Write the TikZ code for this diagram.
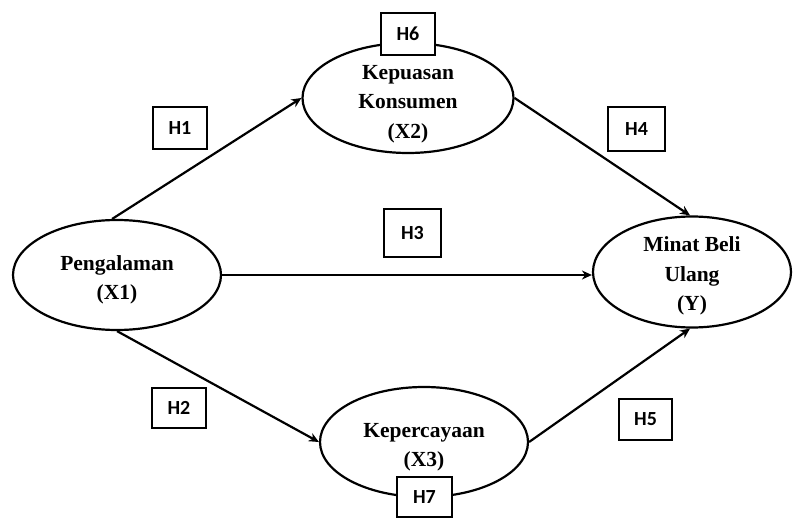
\documentclass[tikz,border=0pt]{standalone}
\usepackage{fontspec}
\setmainfont{Liberation Serif}
\newfontfamily\boxfont{Carlito}
\usetikzlibrary{shapes.geometric,arrows.meta}
\tikzset{
  var/.style={ellipse, draw, line width=2.2pt, fill=white, inner sep=0pt},
  vartext/.style={align=center, inner sep=0pt,
    font=\fontsize{21.5}{29.5}\selectfont\bfseries},
  hyp/.style={rectangle, draw, line width=2.2pt, fill=white, inner sep=0pt,
    font=\boxfont\fontsize{20}{22}\selectfont\bfseries},
  path/.style={line width=2.2pt, -{Stealth[length=10pt,width=9pt]}}
}
\begin{document}
\begin{tikzpicture}[x=1pt,y=-1pt]
\useasboundingbox (0,0) rectangle (797,518);
\node[var, minimum width=208pt, minimum height=110pt] (P) at (117,275) {};
\node[vartext] (Pt) at (117,280) {Pengalaman\\(X1)};
\node[var, minimum width=211pt, minimum height=110pt] (K) at (408,98) {};
\node[vartext] (Kt) at (408,104) {Kepuasan\\Konsumen\\(X2)};
\node[var, minimum width=198pt, minimum height=111pt] (M) at (692,272) {};
\node[vartext] (Mt) at (692,276) {Minat Beli\\Ulang\\(Y)};
\node[var, minimum width=208pt, minimum height=110pt] (C) at (424,442) {};
\node[vartext] (Ct) at (424,447) {Kepercayaan\\(X3)};

\draw[path] (P.95) -- (K.west);
\draw[path] (P.south) -- (C.west);
\draw[path] (P.east) -- (P.east -| M.west);
\draw[path] (K.east) -- (M.92);
\draw[path] (C.east) -- (M.268);

\node[hyp, minimum width=54pt, minimum height=42pt] (h1) at (180,128) {H1};
\node[hyp, minimum width=54pt, minimum height=40pt] (h2) at (179,408) {H2};
\node[hyp, minimum width=57pt, minimum height=48pt] (h3) at (412.5,233) {H3};
\node[hyp, minimum width=57pt, minimum height=44pt] (h4) at (636.5,129) {H4};
\node[hyp, minimum width=53pt, minimum height=41pt] (h5) at (645.5,419.5) {H5};
\node[hyp, minimum width=54pt, minimum height=42pt] (h6) at (408,34) {H6};
\node[hyp, minimum width=55pt, minimum height=40pt] (h7) at (424.5,497) {H7};
\end{tikzpicture}
\end{document}
